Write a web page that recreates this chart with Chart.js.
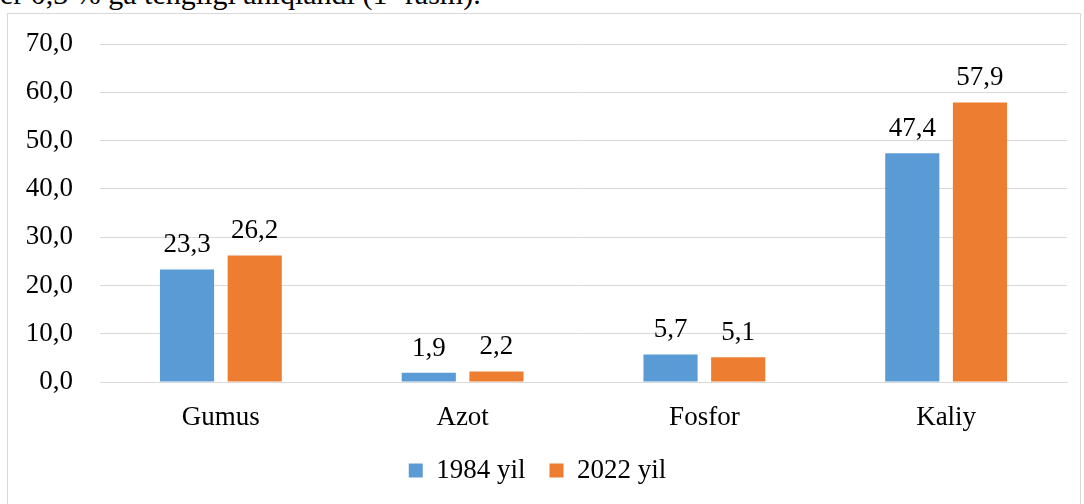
<!DOCTYPE html>
<html lang="uz">
<head>
    <meta charset="UTF-8">
    <title>Gumus, Azot, Fosfor, Kaliy</title>
    <script src="https://cdn.jsdelivr.net/npm/chart.js"></script>
    <style>
        body { margin: 0; background: #fff; width: 1084px; height: 504px; overflow: hidden; position: relative; }
        .top-text { position: absolute; left: 0; top: -21px; font: 30px/30px "Liberation Serif", serif; color: #000; white-space: nowrap; }
        .box { position: absolute; left: 7px; top: 13px; width: 1072px; height: 500px; border: 1px solid #d9d9d9; background: #fff; }
        canvas { display: block; }
    </style>
</head>
<body>
    <div class="top-text">er 0,3 % ga tengligi aniqlandi (1- rasm).</div>
    <div class="box">
        <canvas id="chart" width="1072" height="500"></canvas>
    </div>

    <script>
        // ma'lumotlar
        const categories = ['Gumus', 'Azot', 'Fosfor', 'Kaliy'];
        const values1984 = [23.3, 1.9, 5.7, 47.4];
        const values2022 = [26.2, 2.2, 5.1, 57.9];
        const seriesNames = ['1984 yil', '2022 yil'];
        const yTicks = [0, 10, 20, 30, 40, 50, 60, 70];

        const fontFamily = '"Liberation Serif", serif';
        const fontSize = 27;
        const fmt = v => v.toFixed(1).replace('.', ',');

        // qiymatlarni ustunlar ustiga yozish
        const valueLabels = {
            id: 'valueLabels',
            afterDatasetsDraw(chart) {
                const ctx = chart.ctx;
                ctx.save();
                ctx.font = fontSize + 'px ' + fontFamily;
                ctx.fillStyle = '#000';
                ctx.textAlign = 'center';
                ctx.textBaseline = 'alphabetic';
                chart.data.datasets.forEach((ds, i) => {
                    chart.getDatasetMeta(i).data.forEach((bar, j) => {
                        ctx.fillText(fmt(ds.data[j]), bar.x, bar.y - 17);
                    });
                });
                ctx.restore();
            }
        };

        new Chart(document.getElementById('chart'), {
            type: 'bar',
            data: {
                labels: categories,
                datasets: [
                    { label: seriesNames[0], data: values1984, backgroundColor: '#5B9BD5' },
                    { label: seriesNames[1], data: values2022, backgroundColor: '#ED7D31' }
                ]
            },
            options: {
                responsive: false,
                animation: false,
                categoryPercentage: 0.56,
                barPercentage: 0.8,
                layout: { padding: { top: 30, right: 13, bottom: 20, left: 0 } },
                plugins: {
                    legend: {
                        position: 'bottom',
                        labels: {
                            boxWidth: 14, boxHeight: 14, padding: 24,
                            color: '#000',
                            font: { family: fontFamily, size: fontSize }
                        }
                    },
                    tooltip: { enabled: false }
                },
                scales: {
                    x: {
                        grid: { display: false },
                        border: { display: true, color: '#d9d9d9' },
                        ticks: { color: '#000', padding: 12, font: { family: fontFamily, size: fontSize } },
                        afterFit: s => { s.height = 51; }
                    },
                    y: {
                        min: 0, max: 70,
                        afterBuildTicks: s => { s.ticks = yTicks.map(v => ({ value: v })); },
                        grid: { color: '#d9d9d9', drawTicks: false },
                        border: { display: false },
                        ticks: {
                            color: '#000', padding: 27,
                            font: { family: fontFamily, size: fontSize },
                            callback: v => fmt(v)
                        },
                        afterFit: s => {
                            s.width = 92;
                            s.paddingTop = 0;
                            s.paddingBottom = 0;
                        }
                    }
                }
            },
            plugins: [valueLabels]
        });
    </script>
</body>
</html>
